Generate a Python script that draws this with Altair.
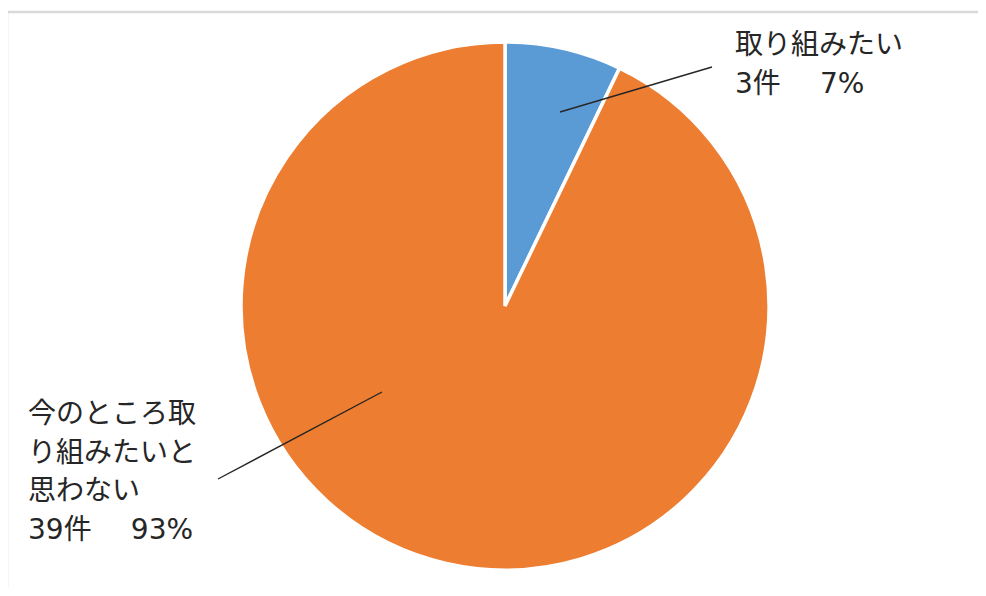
import altair as alt
import pandas as pd

# ---- data ----
categories = ["取り組みたい", "今のところ取り組みたいと思わない"]
counts = [3, 39]
percents = ["7%", "93%"]
label_texts = ["取り組みたい\n3件　\u2009\u20097%", "今のところ取\nり組みたいと\n思わない\n39件　\u2009\u200993%"]

# ---- style / layout ----
colors = ["#5B9BD5", "#ED7D31"]
W, H = 970, 580
CX, CY, R = 497, 298, 264
leader_from = [(55, -194), (-123, 86)]   # offsets from pie centre (px)
leader_to = [(207, -239), (-287, 173)]
label_xy = [(727, 24), (20, 393)]
FONT = "DejaVu Sans, Noto Sans CJK JP"

pie_df = pd.DataFrame({"category": categories, "count": counts, "idx": list(range(len(categories)))})

lead_df = pd.DataFrame({
    "x": [CX + a[0] for a in leader_from],
    "y": [CY + a[1] for a in leader_from],
    "x2": [CX + b[0] for b in leader_to],
    "y2": [CY + b[1] for b in leader_to],
})

lab_df = pd.DataFrame({
    "label": label_texts,
    "x": [p[0] for p in label_xy],
    "y": [p[1] for p in label_xy],
})

border = alt.Chart(pd.DataFrame({"a": [0]})).mark_rect(
    fill="white", stroke="#D9D9D9", strokeWidth=2.5
).encode(x=alt.value(-1), y=alt.value(4), x2=alt.value(W + 20), y2=alt.value(H + 20))

pie = alt.Chart(pie_df).mark_arc(outerRadius=R, stroke="white", strokeWidth=3.5).encode(
    theta=alt.Theta("count:Q", stack=True),
    color=alt.Color("category:N", scale=alt.Scale(domain=categories, range=colors), legend=None),
    order=alt.Order("idx:Q"),
    x=alt.value(CX),
    y=alt.value(CY),
)

leaders = alt.Chart(lead_df).mark_rule(color="#262626", strokeWidth=1.4).encode(
    x=alt.X("x:Q", scale=None),
    y=alt.Y("y:Q", scale=None),
    x2="x2:Q",
    y2="y2:Q",
)

labels = alt.Chart(lab_df).mark_text(
    align="left", baseline="top", font=FONT, fontSize=28, lineHeight=38.5,
    lineBreak="\n", color="#262626"
).encode(
    x=alt.X("x:Q", scale=None),
    y=alt.Y("y:Q", scale=None),
    text="label:N",
)

chart = alt.layer(border, pie, leaders, labels).properties(
    width=W, height=H, autosize=alt.AutoSizeParams(type="none"), padding=0
).configure_view(stroke=None)

chart.save("out.html", embed_options={"renderer": "svg", "actions": False})
